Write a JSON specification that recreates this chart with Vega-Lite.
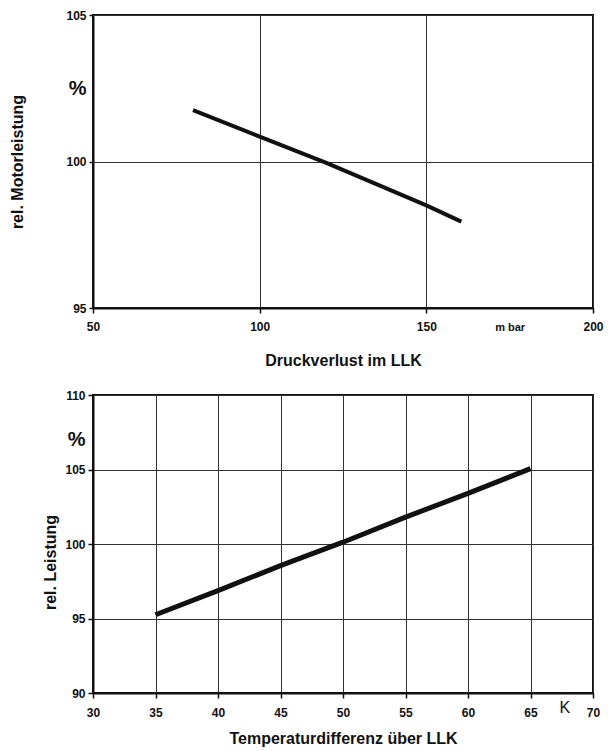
{
  "$schema": "https://vega.github.io/schema/vega-lite/v6.json",
  "background": "white",
  "padding": {"left": 8, "top": 8, "right": 4, "bottom": 2},
  "spacing": 19,
  "datasets": {
    "druck": [
      {"Druckverlust": 80, "Motorleistung": 101.75},
      {"Druckverlust": 100, "Motorleistung": 100.85},
      {"Druckverlust": 120, "Motorleistung": 99.95},
      {"Druckverlust": 150, "Motorleistung": 98.5},
      {"Druckverlust": 160.5, "Motorleistung": 97.95}
    ],
    "temp": [
      {"Temperaturdifferenz": 35, "Leistung": 95.25},
      {"Temperaturdifferenz": 40, "Leistung": 96.87},
      {"Temperaturdifferenz": 45, "Leistung": 98.55},
      {"Temperaturdifferenz": 50, "Leistung": 100.12},
      {"Temperaturdifferenz": 55, "Leistung": 101.8},
      {"Temperaturdifferenz": 60, "Leistung": 103.4},
      {"Temperaturdifferenz": 65, "Leistung": 105.06}
    ]
  },
  "config": {
    "font": "Liberation Sans",
    "view": {"stroke": "#111", "strokeWidth": 2},
    "axis": {
      "labelFont": "Liberation Sans",
      "labelFontWeight": "bold",
      "labelFontSize": 12,
      "labelColor": "#111",
      "titleFont": "Liberation Sans",
      "titleFontWeight": "bold",
      "titleFontSize": 16,
      "titleColor": "#111",
      "domainColor": "#111",
      "domainWidth": 2,
      "tickColor": "#111",
      "tickWidth": 1.5,
      "tickSize": 5,
      "gridColor": "#333",
      "gridWidth": 1,
      "gridOpacity": 1
    }
  },
  "vconcat": [
    {
      "width": 500,
      "height": 293,
      "data": {"name": "druck"},
      "mark": {"type": "line", "color": "#111", "strokeWidth": 4},
      "encoding": {
        "x": {
          "field": "Druckverlust",
          "type": "quantitative",
          "scale": {"domain": [50, 200], "nice": false, "zero": false},
          "axis": {
            "title": "Druckverlust im LLK",
            "values": [50, 100, 150, 175, 200],
            "labelExpr": "datum.value === 175 ? 'm bar' : datum.label",
            "labelFontSize": {"condition": {"test": "datum.value === 175", "value": 11}, "value": 12},
            "gridOpacity": {"condition": {"test": "datum.value === 175", "value": 0}, "value": 1},
            "tickOpacity": {"condition": {"test": "datum.value === 175", "value": 0}, "value": 1},
            "labelPadding": 8,
            "titlePadding": 20,
            "labelFlush": false
          }
        },
        "y": {
          "field": "Motorleistung",
          "type": "quantitative",
          "scale": {"domain": [95, 105], "nice": false, "zero": false},
          "axis": {
            "title": "rel. Motorleistung",
            "values": [95, 100, 102.5, 105],
            "labelExpr": "datum.value === 102.5 ? '%' : datum.label",
            "labelFontSize": {"condition": {"test": "datum.value === 102.5", "value": 20}, "value": 12},
            "gridOpacity": {"condition": {"test": "datum.value === 102.5", "value": 0}, "value": 1},
            "tickOpacity": {"condition": {"test": "datum.value === 102.5", "value": 0}, "value": 1},
            "tickSize": 4,
            "labelPadding": 3,
            "titlePadding": 40,
            "labelFlush": false
          }
        }
      }
    },
    {
      "width": 500,
      "height": 298,
      "data": {"name": "temp"},
      "mark": {"type": "line", "color": "#111", "strokeWidth": 5},
      "encoding": {
        "x": {
          "field": "Temperaturdifferenz",
          "type": "quantitative",
          "scale": {"domain": [30, 70], "nice": false, "zero": false},
          "axis": {
            "title": "Temperaturdifferenz über LLK",
            "values": [30, 35, 40, 45, 50, 55, 60, 65, 67.7, 70],
            "labelExpr": "datum.value === 67.7 ? 'K' : datum.label",
            "labelFontSize": {"condition": {"test": "datum.value === 67.7", "value": 16}, "value": 12},
            "labelFontWeight": {"condition": {"test": "datum.value === 67.7", "value": "normal"}, "value": "bold"},
            "labelBaseline": {"condition": {"test": "datum.value === 67.7", "value": "middle"}, "value": "top"},
            "gridOpacity": {"condition": {"test": "datum.value === 67.7", "value": 0}, "value": 1},
            "tickOpacity": {"condition": {"test": "datum.value === 67.7", "value": 0}, "value": 1},
            "labelPadding": 9,
            "titlePadding": 12,
            "labelFlush": false
          }
        },
        "y": {
          "field": "Leistung",
          "type": "quantitative",
          "scale": {"domain": [90, 110], "nice": false, "zero": false},
          "axis": {
            "title": "rel. Leistung",
            "values": [90, 95, 100, 105, 107, 110],
            "labelExpr": "datum.value === 107 ? '%' : datum.label",
            "labelFontSize": {"condition": {"test": "datum.value === 107", "value": 20}, "value": 12},
            "gridOpacity": {"condition": {"test": "datum.value === 107", "value": 0}, "value": 1},
            "tickOpacity": {"condition": {"test": "datum.value === 107", "value": 0}, "value": 1},
            "tickSize": 5,
            "labelPadding": 3,
            "titlePadding": 6,
            "titleY": 167,
            "labelFlush": false
          }
        }
      }
    }
  ]
}
